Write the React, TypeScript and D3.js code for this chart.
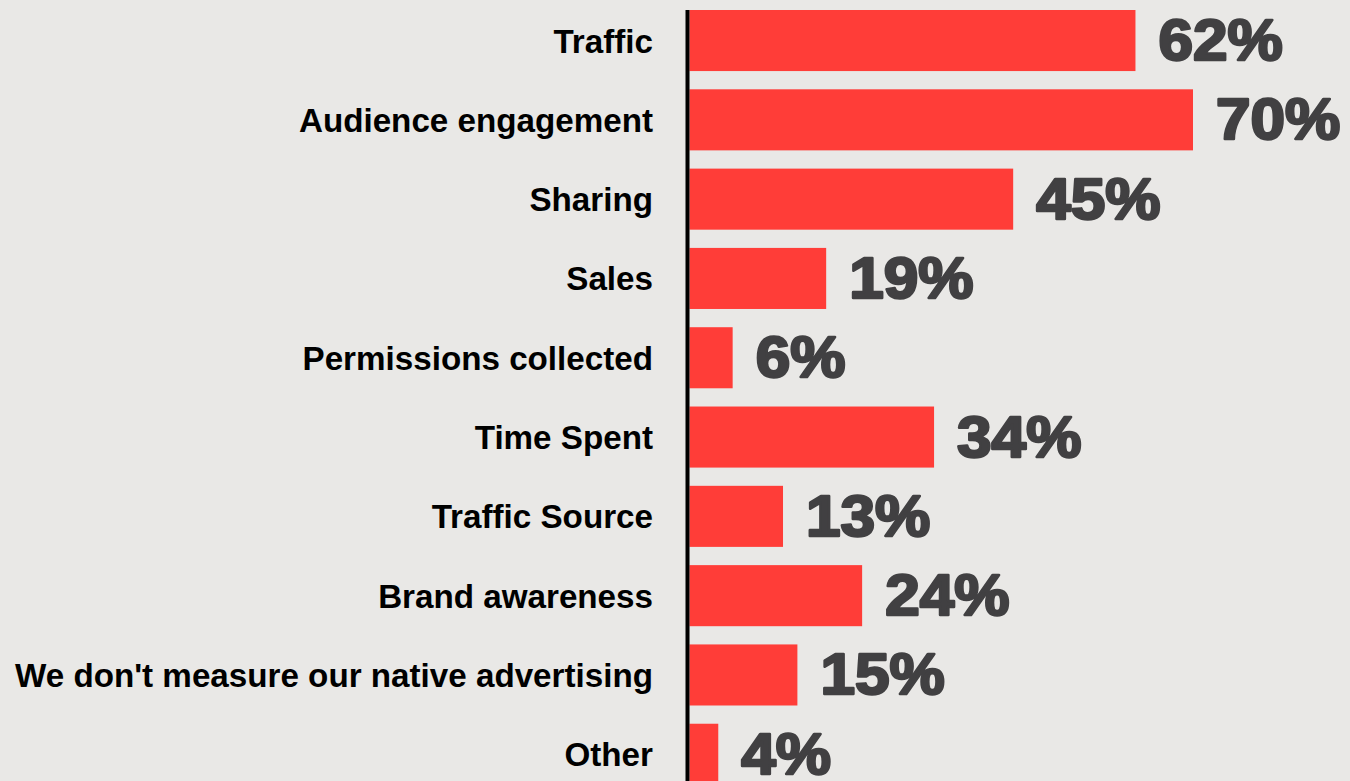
import React, { useEffect, useRef } from "react";
import * as d3 from "d3";

const categories = [
  "Traffic",
  "Audience engagement",
  "Sharing",
  "Sales",
  "Permissions collected",
  "Time Spent",
  "Traffic Source",
  "Brand awareness",
  "We don't measure our native advertising",
  "Other",
];
const values = [62, 70, 45, 19, 6, 34, 13, 24, 15, 4];
const valueLabels = ["62%", "70%", "45%", "19%", "6%", "34%", "13%", "24%", "15%", "4%"];

const W = 1350;
const H = 781;

export default function App() {
  const ref = useRef<SVGSVGElement>(null);

  useEffect(() => {
    const svg = d3.select(ref.current);
    svg.selectAll("*").remove();

    svg.append("rect").attr("width", W).attr("height", H).attr("fill", "#e9e8e6");

    const x = d3.scaleLinear().domain([0, 70]).range([689.5, 1193]);
    const y = d3
      .scaleBand<string>()
      .domain(categories)
      .range([10, 784.8])
      .paddingInner(0.23)
      .paddingOuter(0);

    const data = categories.map((c, i) => ({ c, v: values[i], l: valueLabels[i] }));

    svg
      .append("g")
      .selectAll("rect")
      .data(data)
      .join("rect")
      .attr("x", x(0))
      .attr("y", (d) => y(d.c)!)
      .attr("width", (d) => x(d.v) - x(0))
      .attr("height", y.bandwidth())
      .attr("fill", "#ff3d38");

    svg
      .append("line")
      .attr("x1", 687.5)
      .attr("x2", 687.5)
      .attr("y1", 10)
      .attr("y2", H + 20)
      .attr("stroke", "#000")
      .attr("stroke-width", 4);

    svg
      .append("g")
      .selectAll("text")
      .data(data)
      .join("text")
      .attr("x", 653)
      .attr("y", (d) => y(d.c)! + y.bandwidth() / 2 + 12)
      .attr("text-anchor", "end")
      .attr("font-family", "'Liberation Sans', Arial, sans-serif")
      .attr("font-weight", "bold")
      .attr("font-size", 33.2)
      .attr("fill", "#000")
      .text((d) => d.c);

    svg
      .append("g")
      .selectAll("text")
      .data(data)
      .join("text")
      .attr(
        "transform",
        (d) => `translate(${x(d.v) + 23},${y(d.c)! + y.bandwidth() / 2 + 19.5}) scale(1.09,1)`
      )
      .attr("font-family", "'Liberation Sans', Arial, sans-serif")
      .attr("font-weight", "bold")
      .attr("font-size", 57)
      .attr("fill", "#414042")
      .attr("stroke", "#414042")
      .attr("stroke-width", 2.5)
      .attr("stroke-linejoin", "round")
      .text((d) => d.l);
  }, []);

  return (
    <div style={{ position: "fixed", left: 0, top: 0, width: W, height: H, overflow: "hidden" }}>
      <svg ref={ref} width={W} height={H} style={{ display: "block" }} />
    </div>
  );
}
